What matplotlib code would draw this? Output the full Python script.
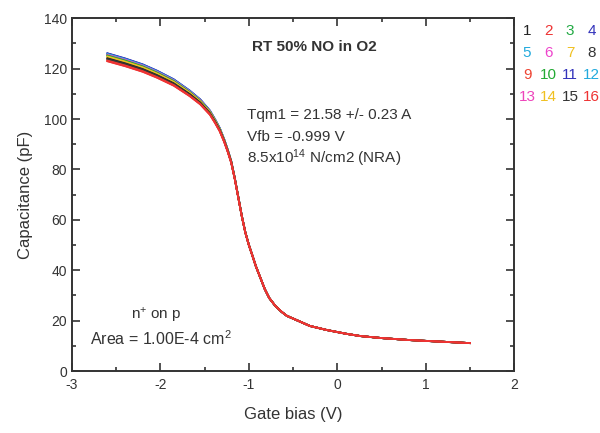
import numpy as np
import matplotlib
matplotlib.use("Agg")
import matplotlib.pyplot as plt
from matplotlib.ticker import MultipleLocator

plt.rcParams['font.family'] = ['Liberation Sans', 'DejaVu Sans']
plt.rcParams['axes.unicode_minus'] = False
plt.rcParams['mathtext.fontset'] = 'custom'
plt.rcParams['mathtext.rm'] = 'Liberation Sans'
plt.rcParams['mathtext.it'] = 'Liberation Sans'
plt.rcParams['mathtext.default'] = 'rm'

# base C-V curve
gate_bias = [-2.60, -2.40, -2.20, -2.04, -1.85, -1.67, -1.55, -1.44, -1.38, -1.33,
             -1.28, -1.24, -1.20, -1.16, -1.12, -1.08, -1.04, -1.00, -0.96, -0.92,
             -0.87, -0.82, -0.77, -0.70, -0.63, -0.57, -0.42, -0.31, -0.12, 0.10,
             0.26, 0.50, 0.82, 1.10, 1.50]
capacitance = [124.5, 122.5, 120.2, 117.8, 114.5, 110.2, 106.8, 102.5, 99.0, 95.8,
               91.5, 87.5, 83.0, 76.5, 69.0, 61.5, 55.0, 50.0, 45.8, 41.5,
               37.0, 32.5, 29.0, 25.8, 23.5, 21.9, 19.6, 17.9, 16.3, 14.8,
               13.9, 13.1, 12.3, 11.8, 11.1]
# how much the 16 curves fan out along the sweep (1 = full spread at the start)
spread = [1.0, 0.97, 0.93, 0.88, 0.8, 0.7, 0.62, 0.52, 0.46, 0.4,
          0.33, 0.27, 0.2, 0.14, 0.1, 0.07, 0.05, 0.03, 0.02, 0.01,
          0.0, 0.0, 0.0, 0.0, 0.0, 0.0, 0.0, 0.0, 0.0, 0.0,
          0.0, 0.0, 0.0, 0.0, 0.0]
# accumulation offset of each sample (pF) relative to the base curve
offsets = [-0.4, -1.5, 0.6, 1.6, 1.3, 1.0, 0.3, -0.6, -1.3, 0.7, 1.5, 1.2, 0.9, 0.1, -0.9, -1.6]
samples = [str(i) for i in range(1, 17)]
colors = ['#222222', '#ee3333', '#22aa44', '#3333bb', '#22aadd', '#ee44cc', '#f0c020', '#333333',
          '#ee4433', '#22aa33', '#3333bb', '#22aadd', '#ee44bb', '#f0c020', '#333333', '#ee3333']

fig = plt.figure(figsize=(6, 4.33), dpi=100)
ax = fig.add_axes([0.12, 0.143, 0.737, 0.815])

base = np.array(capacitance)
w = np.array(spread)
# highest first, so the red trace ends up on the lower edge like the scan
for i in np.argsort(offsets)[::-1]:
    ax.plot(gate_bias, base + offsets[i] * w, color=colors[i], lw=1.3)

ax.set_xlim(-3, 2)
ax.set_ylim(0, 140)
ax.xaxis.set_major_locator(MultipleLocator(1))
ax.xaxis.set_minor_locator(MultipleLocator(0.5))
ax.yaxis.set_major_locator(MultipleLocator(20))
ax.yaxis.set_minor_locator(MultipleLocator(10))
ax.tick_params(which='both', direction='in', top=True, right=True, labelsize=10, colors='#333333')
ax.tick_params(which='major', length=6, width=1.2)
ax.tick_params(which='minor', length=3, width=1.2)
ax.tick_params(axis='x', pad=5)
for s in ax.spines.values():
    s.set_linewidth(1.4)
    s.set_color('#333333')

ax.set_xlabel("Gate bias (V)", fontsize=12, color='#333333', labelpad=11)
ax.set_ylabel("Capacitance (pF)", fontsize=12, color='#333333', labelpad=8)

ax.text(0.548, 0.917, "RT 50% NO in O2", transform=ax.transAxes, fontsize=11,
        fontweight='bold', ha='center', va='center', color='#333333')
ax.text(0.395, 0.726, "Tqm1 = 21.58 +/- 0.23 A", transform=ax.transAxes, fontsize=11,
        va='center', color='#333333')
ax.text(0.395, 0.664, "Vfb = -0.999 V", transform=ax.transAxes, fontsize=11,
        va='center', color='#333333')
ax.text(0.395, 0.604, r"8.5x10$^{14}$ N/cm2 (NRA)", transform=ax.transAxes, fontsize=11,
        va='center', color='#333333')
ax.text(0.19, 0.158, r"n$^{+}$ on p", transform=ax.transAxes, fontsize=11,
        ha='center', va='center', color='#333333')
ax.text(0.2, 0.093, r"Area = 1.00E-4 cm$^{2}$", transform=ax.transAxes, fontsize=11.5,
        ha='center', va='center', color='#333333')

# numbered colour key to the right of the plot
for i, lab in enumerate(samples):
    col = i % 4
    row = i // 4
    fig.text((527 + col * 21.5) / 600, 1 - (31 + row * 22) / 433, lab, fontsize=11,
             color=colors[i], ha='center', va='center')

fig.savefig("out.png", dpi=100)
